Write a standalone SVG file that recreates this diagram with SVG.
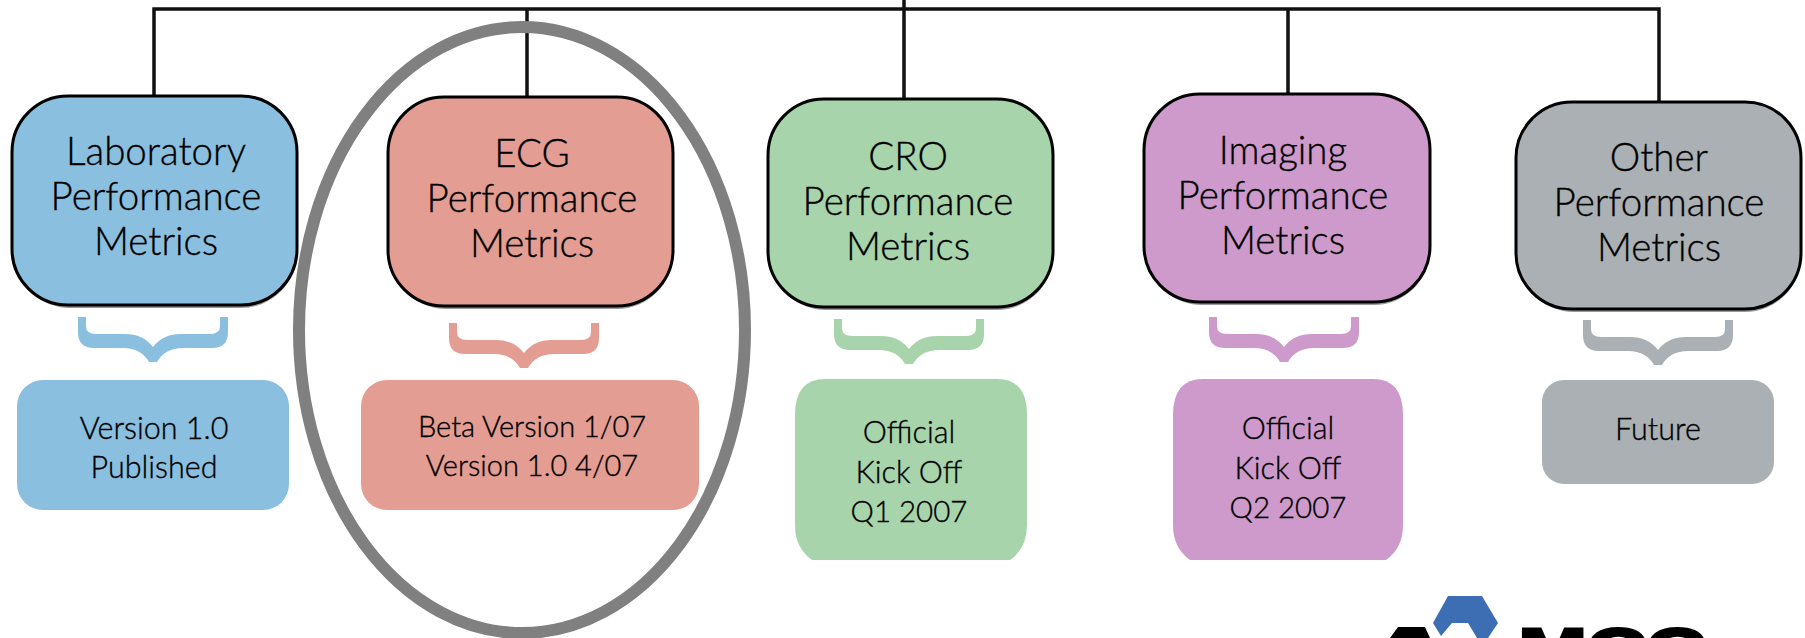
<svg xmlns="http://www.w3.org/2000/svg" width="1805" height="638" viewBox="0 0 1805 638">
<style>
text{font-family:"Lato","Noto Sans","Liberation Sans",sans-serif;font-weight:300;text-anchor:middle;fill:#000;stroke:#000;stroke-width:.35}
.h{font-size:38.5px}
.s{font-size:30.5px}
.c{fill:none;stroke:#111;stroke-width:3.5}
.top{stroke:#000;stroke-width:3}
.sh{fill:#999}
.blue{fill:#8abfdf}.red{fill:#e39d92}.green{fill:#a7d4ab}.purple{fill:#cd9acb}.grey{fill:#aab0b3}
</style>
<defs>
<path id="brace" d="M-75 0H-67V9Q-67 17 -57 17H-28Q-10 17 0 30Q10 17 28 17H57Q67 17 67 9V0H75V15Q75 31 59 31H30Q12 31 4 45H-4Q-12 31 -30 31H-59Q-75 31 -75 15Z"/>
</defs>
<rect width="1805" height="638" fill="#fff"/>
<g id="connectors">
<path class="c" d="M154 95V9H1659V101M527 97V9M904 99V0M1288 93V9"/>
</g>
<g id="laboratory">
<rect class="sh" x="14" y="100" width="283" height="208" rx="56"/>
<rect class="blue top" x="12" y="96" width="285" height="209" rx="56"/>
<text class="h" x="156" y="165">Laboratory</text><text class="h" x="156" y="210">Performance</text><text class="h" x="156" y="255">Metrics</text>
<use href="#brace" class="blue" x="153" y="317"/>
<rect class="blue" x="17" y="380" width="272" height="130" rx="26"/>
<text class="s" x="154" y="439">Version 1.0</text><text class="s" x="154" y="478">Published</text>
</g>
<g id="ecg">
<rect class="sh" x="390" y="101" width="283" height="208" rx="56"/>
<rect class="red top" x="388" y="97" width="285" height="209" rx="56"/>
<text class="h" x="532" y="167">ECG</text><text class="h" x="532" y="212">Performance</text><text class="h" x="532" y="257">Metrics</text>
<use href="#brace" class="red" x="524" y="323"/>
<rect class="red" x="361" y="380" width="338" height="130" rx="26"/>
<text class="s" x="532" y="437" style="font-size:29px">Beta Version 1/07</text><text class="s" x="532" y="476" style="font-size:29px">Version 1.0 4/07</text>
</g>
<g id="cro">
<rect class="sh" x="770" y="103" width="283" height="207" rx="56"/>
<rect class="green top" x="768" y="99" width="285" height="208" rx="56"/>
<text class="h" x="908" y="170">CRO</text><text class="h" x="908" y="215">Performance</text><text class="h" x="908" y="260">Metrics</text>
<use href="#brace" class="green" x="909" y="319"/>
<path class="green" d="M825 379H997Q1027 379 1027 415V525Q1027 548 1010 560H812Q795 548 795 525V415Q795 379 825 379Z"/>
<text class="s" x="909" y="443">Official</text><text class="s" x="909" y="483">Kick Off</text><text class="s" x="909" y="522" style="font-size:29.5px">Q1 2007</text>
</g>
<g id="imaging">
<rect class="sh" x="1146" y="98" width="284" height="207" rx="56"/>
<rect class="purple top" x="1144" y="94" width="286" height="208" rx="56"/>
<text class="h" x="1283" y="164">Imaging</text><text class="h" x="1283" y="209">Performance</text><text class="h" x="1283" y="254">Metrics</text>
<use href="#brace" class="purple" x="1284" y="317"/>
<path class="purple" d="M1203 379H1373Q1403 379 1403 415V525Q1403 548 1386 560H1190Q1173 548 1173 525V415Q1173 379 1203 379Z"/>
<text class="s" x="1288" y="439">Official</text><text class="s" x="1288" y="479">Kick Off</text><text class="s" x="1288" y="518" style="font-size:29.5px">Q2 2007</text>
</g>
<g id="other">
<rect class="sh" x="1518" y="106" width="283" height="206" rx="56"/>
<rect class="grey top" x="1516" y="102" width="285" height="207" rx="56"/>
<text class="h" x="1659" y="171">Other</text><text class="h" x="1659" y="216">Performance</text><text class="h" x="1659" y="261">Metrics</text>
<use href="#brace" class="grey" x="1658" y="320"/>
<rect class="grey" x="1542" y="380" width="232" height="104" rx="22"/>
<text class="s" x="1658" y="440">Future</text>
</g>
<ellipse id="highlight" cx="522" cy="330" rx="223" ry="303" fill="none" stroke="#808080" stroke-width="12"/>
<g id="logo">
<path fill="#3d6eb3" d="M1448 596H1482L1498 623L1488 638H1477L1468 623H1452L1441 636L1433 623Z"/>
<path fill="#000" d="M1390 638L1398 627H1425L1430 638Z"/>
<text x="1612" y="670" textLength="187" lengthAdjust="spacingAndGlyphs" stroke="#000" stroke-width="3" style="font-size:60px;font-weight:700;fill:#000;stroke-width:3;font-family:'Liberation Sans',sans-serif">MCC</text>
</g>
</svg>
